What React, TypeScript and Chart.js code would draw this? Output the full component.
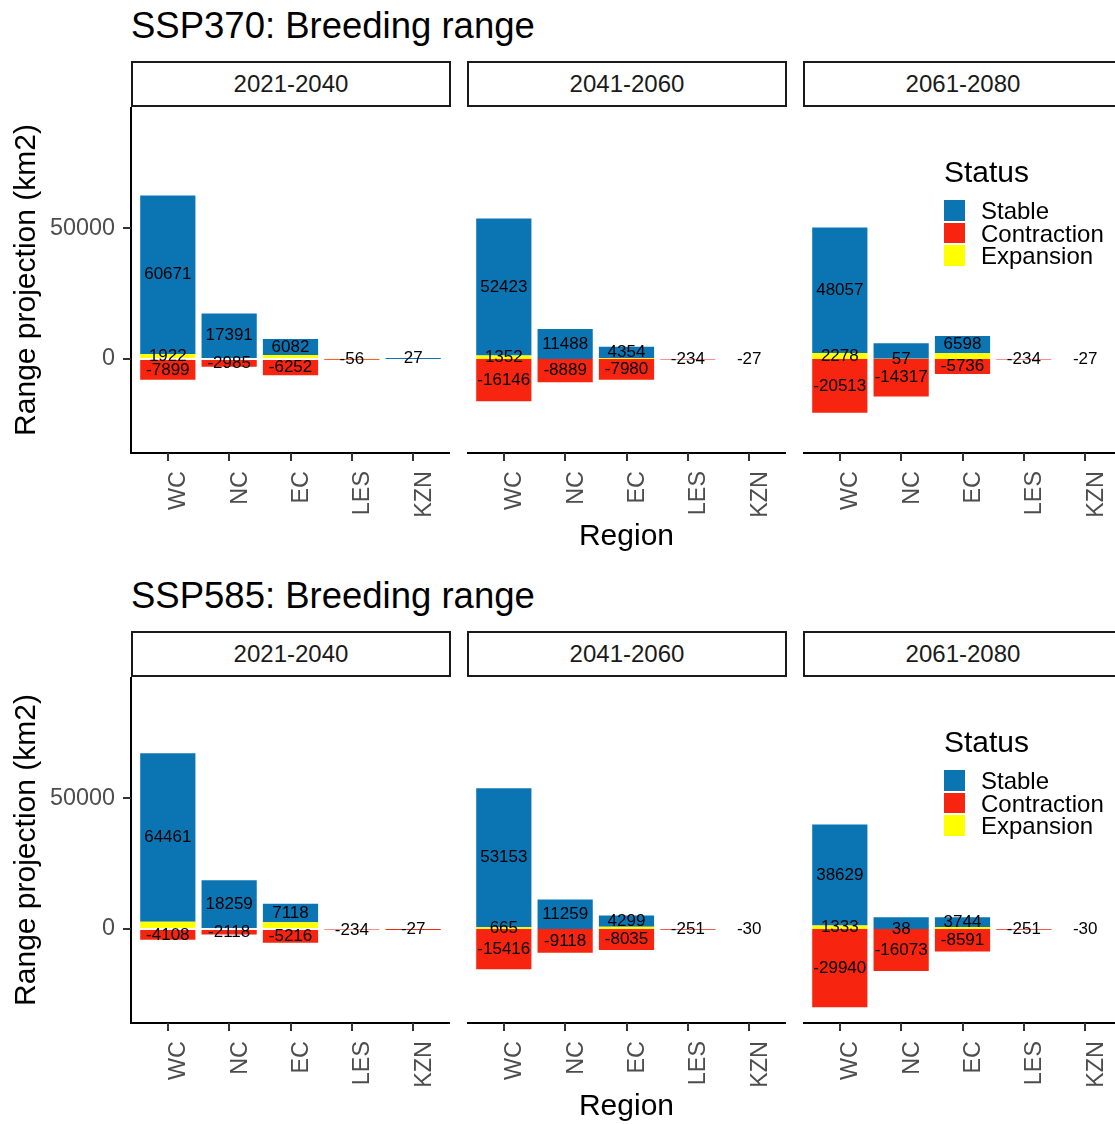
import React, { useEffect, useRef } from "react";
import { Chart, registerables } from "chart.js";
Chart.register(...registerables);

const FONT = '"Liberation Sans", Arial, Helvetica, sans-serif';

// ---------- data ----------
const regions = ["WC", "NC", "EC", "LES", "KZN"];
const periods = ["2021-2040", "2041-2060", "2061-2080"];
const scenarioTitles = ["SSP370: Breeding range", "SSP585: Breeding range"];
const legendStatuses = ["Stable", "Contraction", "Expansion"];
const statusColors: Record<string, string> = {
  Stable: "#0B75B4",
  Contraction: "#F7250F",
  Expansion: "#FFFF00",
};
const yTickValues = [0, 50000];
const yMin = -35956;
const yMax = 96406;

const ssp370Stable = [
  [60671, 17391, 6082, null, 27],
  [52423, 11488, 4354, null, null],
  [48057, 5950, 6598, null, null],
];
const ssp370Expansion = [
  [1922, null, 1570, 300, null],
  [1352, null, 350, null, null],
  [2278, 57, 2200, null, null],
];
const ssp370Contraction = [
  [-7899, -2985, -6252, -56, null],
  [-16146, -8889, -7980, -234, -27],
  [-20513, -14317, -5736, -234, -27],
];
const ssp370HiddenLabels = [
  ["Expansion:EC", "Expansion:LES"],
  ["Expansion:EC"],
  ["Stable:NC", "Expansion:EC"],
];

const ssp585Stable = [
  [64461, 18259, 7118, null, null],
  [53153, 11259, 4299, null, null],
  [38629, 4440, 3744, null, null],
];
const ssp585Expansion = [
  [2800, 370, 2550, null, null],
  [665, null, 850, null, null],
  [1333, 38, 800, null, null],
];
const ssp585Contraction = [
  [-4108, -2118, -5216, -234, -27],
  [-15416, -9118, -8035, -251, -30],
  [-29940, -16073, -8591, -251, -30],
];
const ssp585HiddenLabels = [
  ["Expansion:WC", "Expansion:NC", "Expansion:EC"],
  ["Expansion:EC"],
  ["Stable:NC", "Expansion:EC"],
];

const scenarioStable = [ssp370Stable, ssp585Stable];
const scenarioExpansion = [ssp370Expansion, ssp585Expansion];
const scenarioContraction = [ssp370Contraction, ssp585Contraction];
const scenarioHidden = [ssp370HiddenLabels, ssp585HiddenLabels];

// ---------- layout ----------
const ROW_STEP = 570;
const PLOT_TOP = 107;
const PLOT_H = 346;
const PLOT_W = 319;
const PLOT_LEFT0 = 131;
const COL_STEP = 336;
const X_AXIS_H = 100;
const TICK_LEN = 7;

type PanelProps = {
  stable: (number | null)[];
  expansion: (number | null)[];
  contraction: (number | null)[];
  hidden: string[];
  showY: boolean;
  left: number;
  top: number;
};

function zeroPadding(s: any) {
  s.paddingTop = 0;
  s.paddingBottom = 0;
  s.paddingLeft = 0;
  s.paddingRight = 0;
}

function Panel({ stable, expansion, contraction, hidden, showY, left, top }: PanelProps) {
  const ref = useRef<HTMLCanvasElement | null>(null);
  const yAxisW = showY ? PLOT_LEFT0 : 0;
  const width = PLOT_W + yAxisW;
  const height = PLOT_H + X_AXIS_H;

  useEffect(() => {
    if (!ref.current) return;
    const toPts = (vals: (number | null)[]) => vals.map((v, i) => ({ x: i + 1, y: v }));
    const overlayPlugin = {
      id: "segLabels",
      afterDraw(chart: any) {
        const ctx = chart.ctx;
        const area = chart.chartArea;
        ctx.save();
        ctx.globalAlpha = 1;
        ctx.globalCompositeOperation = "source-over";
        ctx.fillStyle = "#333333";
        const xs = chart.scales.x;
        regions.forEach((_, i) => {
          const px = Math.round(xs.getPixelForValue(i + 1));
          ctx.fillRect(px - 1, area.bottom, 2, TICK_LEN + 1);
        });
        if (showY) {
          const ys = chart.scales.y;
          yTickValues.forEach((v) => {
            const py = Math.round(ys.getPixelForValue(v));
            ctx.fillRect(area.left - TICK_LEN - 1, py - 1, TICK_LEN + 1, 2);
          });
        }
        ctx.restore();
      },
      afterDatasetsDraw(chart: any) {
        const ctx = chart.ctx;
        ctx.save();
        ctx.font = `17px ${FONT}`;
        ctx.fillStyle = "#000000";
        ctx.textAlign = "center";
        ctx.textBaseline = "middle";
        chart.data.datasets.forEach((ds: any, di: number) => {
          const meta = chart.getDatasetMeta(di);
          meta.data.forEach((el: any, i: number) => {
            const v = ds.data[i].y;
            if (v == null) return;
            if (hidden.includes(`${ds.label}:${regions[i]}`)) return;
            const p = el.getProps(["x", "y", "base"], true);
            ctx.fillText(String(v), p.x, (p.y + p.base) / 2);
          });
        });
        ctx.restore();
      },
    };
    const gridOpts = {
      display: true,
      offset: false,
      drawOnChartArea: false,
      drawTicks: true,
      tickLength: TICK_LEN,
      color: "#333333",
      lineWidth: 2,
    };
    const borderOpts = { display: true, color: "#000000", width: 2 };
    const tickFont = { family: FONT, size: 23.4 };
    const chart = new Chart(ref.current, {
      type: "bar",
      data: {
        datasets: [
          { label: "Expansion", data: toPts(expansion), backgroundColor: statusColors.Expansion },
          { label: "Stable", data: toPts(stable), backgroundColor: statusColors.Stable },
          { label: "Contraction", data: toPts(contraction), backgroundColor: statusColors.Contraction },
        ] as any,
      },
      options: {
        responsive: false,
        animation: false,
        devicePixelRatio: 1,
        layout: { padding: 0, autoPadding: false } as any,
        plugins: {
          legend: { display: false },
          tooltip: { enabled: false },
          title: { display: false },
        },
        datasets: { bar: { barPercentage: 0.9, categoryPercentage: 1, borderWidth: 0 } } as any,
        scales: {
          x: {
            type: "linear",
            bounds: "data",
            min: 0.4,
            max: 5.6,
            stacked: true,
            offset: false,
            afterBuildTicks: (s: any) => {
              s.ticks = regions.map((_, i) => ({ value: i + 1 }));
            },
            afterFit: (s: any) => {
              s.height = X_AXIS_H;
              zeroPadding(s);
            },
            ticks: {
              autoSkip: false,
              minRotation: 90,
              maxRotation: 90,
              labelOffset: 11,
              padding: 11,
              color: "#4D4D4D",
              font: tickFont,
              callback: (v: any) => regions[Math.round(Number(v)) - 1] ?? "",
            },
            grid: gridOpts,
            border: borderOpts,
          } as any,
          y: {
            type: "linear",
            bounds: "data",
            display: showY,
            min: yMin,
            max: yMax,
            stacked: true,
            afterBuildTicks: (s: any) => {
              s.ticks = yTickValues.map((v) => ({ value: v }));
            },
            afterFit: (s: any) => {
              s.width = yAxisW;
              zeroPadding(s);
            },
            ticks: {
              padding: 9,
              color: "#4D4D4D",
              font: tickFont,
              callback: (v: any) => String(v),
            },
            grid: gridOpts,
            border: borderOpts,
          } as any,
        },
      },
      plugins: [overlayPlugin],
    });
    return () => chart.destroy();
  }, []);

  return (
    <canvas
      ref={ref}
      width={width}
      height={height}
      style={{ position: "absolute", left, top, width, height }}
    />
  );
}

function Row({ r }: { r: number }) {
  const oy = r * ROW_STEP;
  return (
    <>
      <div
        style={{
          position: "absolute",
          left: 131,
          top: 8 + oy,
          fontSize: 36.5,
          lineHeight: "36.5px",
          color: "#000",
          whiteSpace: "nowrap",
        }}
      >
        {scenarioTitles[r]}
      </div>
      {periods.map((p, c) => (
        <div
          key={"strip" + c}
          style={{
            position: "absolute",
            left: PLOT_LEFT0 + c * COL_STEP,
            top: 61 + oy,
            width: 320,
            height: 46,
            boxSizing: "border-box",
            border: "2px solid #1A1A1A",
            display: "flex",
            alignItems: "center",
            justifyContent: "center",
            fontSize: 24,
            color: "#1A1A1A",
            whiteSpace: "nowrap",
          }}
        >
          {p}
        </div>
      ))}
      {periods.map((p, c) => (
        <Panel
          key={"panel" + c}
          stable={scenarioStable[r][c]}
          expansion={scenarioExpansion[r][c]}
          contraction={scenarioContraction[r][c]}
          hidden={scenarioHidden[r][c]}
          showY={c === 0}
          left={c === 0 ? 0 : PLOT_LEFT0 + c * COL_STEP}
          top={PLOT_TOP + oy}
        />
      ))}
      <div
        style={{
          position: "absolute",
          left: 426.5,
          width: 400,
          top: 519.6 + oy,
          textAlign: "center",
          fontSize: 30,
          lineHeight: "30px",
          color: "#000",
        }}
      >
        Region
      </div>
      <div
        style={{
          position: "absolute",
          left: 25 - 200,
          width: 400,
          top: 280 + oy - 15,
          height: 30,
          textAlign: "center",
          fontSize: 30,
          lineHeight: "30px",
          color: "#000",
          transform: "rotate(-90deg)",
          whiteSpace: "nowrap",
        }}
      >
        Range projection (km2)
      </div>
      <div
        style={{
          position: "absolute",
          left: 944,
          top: 156.6 + oy,
          fontSize: 30,
          lineHeight: "30px",
          color: "#000",
          zIndex: 2,
        }}
      >
        Status
      </div>
      {legendStatuses.map((s, k) => (
        <React.Fragment key={"leg" + k}>
          <div
            style={{
              position: "absolute",
              left: 944,
              top: 200 + k * 22.7 + oy,
              width: 20.7,
              height: 20.7,
              background: statusColors[s],
              zIndex: 2,
            }}
          />
          <div
            style={{
              position: "absolute",
              left: 981,
              top: 201 + k * 22.7 + oy,
              height: 20.7,
              fontSize: 24,
              lineHeight: "20.7px",
              color: "#000",
              whiteSpace: "nowrap",
              zIndex: 2,
            }}
          >
            {s}
          </div>
        </React.Fragment>
      ))}
    </>
  );
}

export default function App() {
  return (
    <div
      style={{
        position: "absolute",
        left: 0,
        top: 0,
        width: 1115,
        height: 1124,
        overflow: "hidden",
        background: "#ffffff",
        fontFamily: FONT,
      }}
    >
      <Row r={0} />
      <Row r={1} />
    </div>
  );
}
